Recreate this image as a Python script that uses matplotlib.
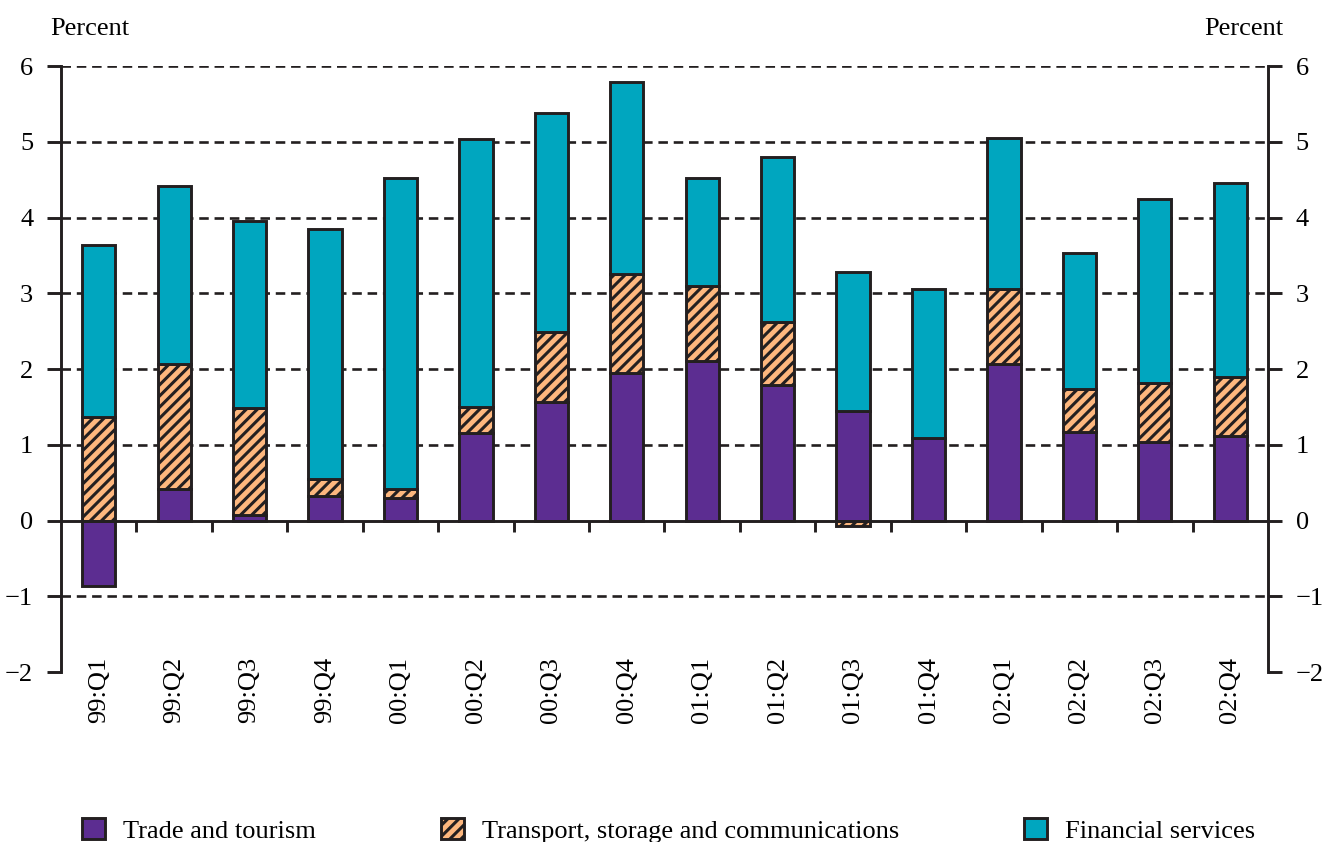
import numpy as np
import matplotlib
matplotlib.use("Agg")
import matplotlib.pyplot as plt

plt.rcParams['font.family'] = ['Liberation Serif', 'DejaVu Serif']
plt.rcParams['hatch.linewidth'] = 2.2
plt.rcParams['hatch.color'] = '#231f20'

quarters = ['99:Q1', '99:Q2', '99:Q3', '99:Q4', '00:Q1', '00:Q2', '00:Q3', '00:Q4',
            '01:Q1', '01:Q2', '01:Q3', '01:Q4', '02:Q1', '02:Q2', '02:Q3', '02:Q4']
trade = [-0.86, 0.41, 0.07, 0.32, 0.30, 1.16, 1.57, 1.95,
         2.10, 1.79, 1.44, 1.09, 2.06, 1.17, 1.04, 1.12]
transport = [1.37, 1.65, 1.41, 0.23, 0.11, 0.34, 0.92, 1.31,
             0.99, 0.83, -0.07, 0.00, 1.00, 0.57, 0.77, 0.78]
financial = [2.27, 2.36, 2.48, 3.30, 4.11, 3.54, 2.89, 2.53,
             1.43, 2.18, 1.84, 1.97, 1.99, 1.79, 2.44, 2.56]
yticks = [-2, -1, 0, 1, 2, 3, 4, 5, 6]
grid_levels = [-1, 1, 2, 3, 4, 5, 6]

series = [('Trade and tourism', trade, '#5c2d91', None),
          ('Transport, storage and communications', transport, '#fdb77e', '///'),
          ('Financial services', financial, '#00a6bf', None)]

edge = '#231f20'
x = np.arange(len(quarters))

fig = plt.figure(figsize=(13.27, 8.42), dpi=100)
ax = fig.add_axes([0.046, 0.2019, 0.9095, 0.7197])

# dashed reference lines behind the bars
for lv in grid_levels:
    ax.axhline(lv, color=edge, lw=1.9, ls=(0, (3.6, 2.2)), zorder=0)

pos_base = np.zeros(len(x))
neg_base = np.zeros(len(x))
handles = []
for name, vals, col, hatch in series:
    v = np.array(vals)
    bottom = np.where(v >= 0, pos_base, neg_base)
    b = ax.bar(x, v, width=0.44, bottom=bottom, color=col, edgecolor=edge,
               linewidth=2.1, hatch=hatch, label=name, zorder=2)
    handles.append(b)
    pos_base = pos_base + np.where(v >= 0, v, 0)
    neg_base = neg_base + np.where(v < 0, v, 0)

ax.set_xlim(-0.5, len(x) - 0.5)
ax.set_ylim(-2, 6)

ax.spines['top'].set_visible(False)
ax.spines['bottom'].set_position(('data', 0))
for s in ['left', 'right', 'bottom']:
    ax.spines[s].set_linewidth(2.1)
    ax.spines[s].set_color(edge)
    ax.spines[s].set_zorder(3)

ax.set_xticks(x[:-1] + 0.5)
ax.set_xticklabels([])
ax.tick_params(axis='x', direction='out', length=8, width=2.1, color=edge)

ax.set_yticks(yticks)
ax.tick_params(axis='y', which='both', direction='out', length=10, width=2.1,
               color=edge, labelsize=19, pad=10, left=True, right=True,
               labelleft=True, labelright=True)

for i, q in enumerate(quarters):
    ax.text(i, -1.80, q, rotation=90, ha='center', va='top', fontsize=19)

fig.text(0.038, 0.966, 'Percent', fontsize=19, ha='left', va='center')
fig.text(0.967, 0.966, 'Percent', fontsize=19, ha='right', va='center')

leg = fig.legend(handles=handles, loc='center left', bbox_to_anchor=(0.054, 0.014),
                 ncol=3, frameon=False, fontsize=19, handlelength=0.85,
                 handleheight=0.85, handletextpad=0.7, columnspacing=4.74,
                 borderaxespad=0)

fig.savefig('out.png', dpi=100)
